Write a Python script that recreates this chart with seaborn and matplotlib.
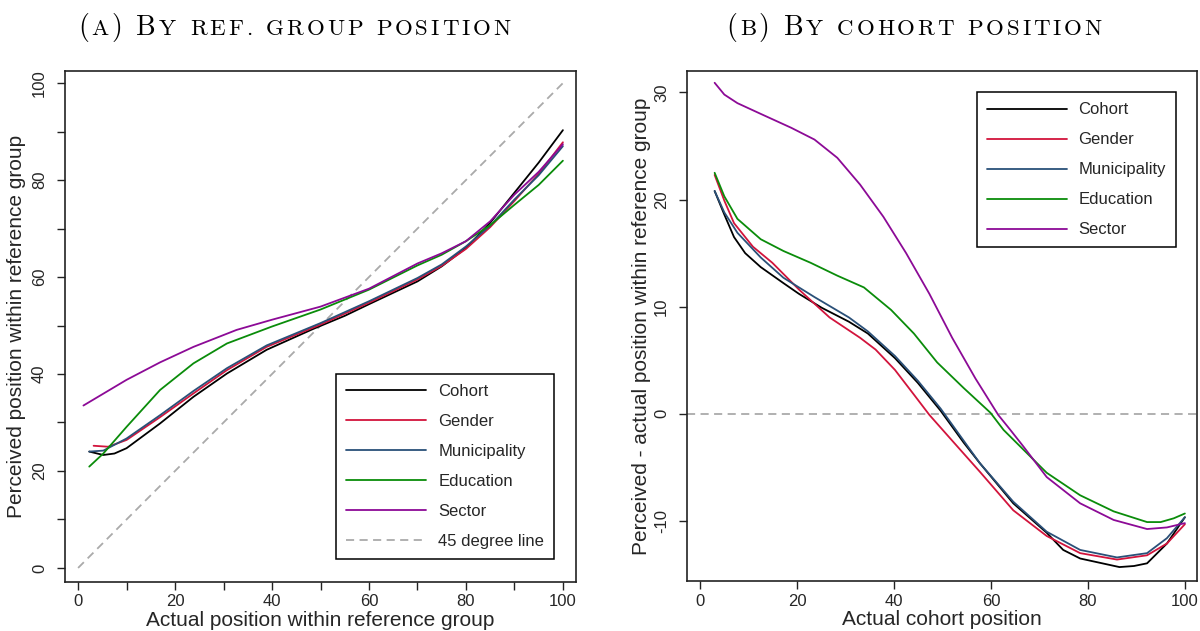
import pandas as pd
import matplotlib
matplotlib.use("Agg")
import matplotlib.pyplot as plt
import seaborn as sns
from matplotlib.lines import Line2D
from matplotlib.offsetbox import TextArea, HPacker, AnnotationBbox

groups = ["Cohort", "Gender", "Municipality", "Education", "Sector"]
colors = ["#000000", "#D2143C", "#2A5078", "#0A8C0A", "#8C0A96"]

# panel (a): perceived vs actual position within reference group
a_cohort_x = [2.3, 5.2, 7.5, 10, 16.9, 23.8, 30.7, 38.9, 48.5, 55, 60, 70, 75, 80, 85, 90, 95, 100]
a_cohort_y = [24.0, 23.3, 23.6, 24.7, 29.8, 35.3, 40.1, 45.0, 49.3, 52.0, 54.4, 59.1, 62.2, 66.0, 71.2, 77.4, 83.6, 90.3]
a_gender_x = [3.2, 6.2, 10, 16.9, 23.8, 30.7, 38.9, 50, 60, 70, 75, 80, 85, 90, 95, 100]
a_gender_y = [25.2, 25.0, 26.4, 31.1, 36.0, 40.8, 45.6, 50.2, 54.7, 59.5, 62.3, 65.8, 70.3, 75.7, 81.3, 87.8]
a_munic_x = [2.3, 5.2, 10, 16.9, 23.8, 30.7, 38.9, 50, 60, 70, 75, 80, 85, 90, 95, 100]
a_munic_y = [24.0, 24.2, 26.7, 31.5, 36.5, 41.2, 45.9, 50.5, 55.0, 59.8, 62.6, 66.3, 70.6, 76.0, 81.0, 87.0]
a_educ_x = [2.3, 5.2, 10, 16.9, 23.8, 30.7, 40, 50, 60, 70, 75, 80, 85, 90, 95, 100]
a_educ_y = [20.9, 23.6, 29.1, 36.7, 42.2, 46.3, 49.8, 53.3, 57.4, 62.4, 64.6, 67.4, 70.7, 74.9, 79.0, 84.0]
a_sector_x = [1.1, 10, 16.9, 23.8, 32.7, 40, 50, 60, 70, 75, 80, 85, 90, 95, 100]
a_sector_y = [33.5, 38.8, 42.4, 45.6, 49.1, 51.2, 53.9, 57.6, 62.8, 64.9, 67.4, 71.5, 77.0, 81.7, 87.4]
diag_x = [0, 100]
diag_y = [0, 100]

# panel (b): perceived minus actual, by cohort position
b_cohort_x = [3.0, 5.0, 7.0, 9.3, 12.5, 17.2, 20.4, 25.1, 30.7, 34.6, 40.2, 44.9, 49.6, 54.4, 57.7, 64.6,
              71.5, 74.9, 78.4, 86.5, 89.5, 92.2, 96.3, 100]
b_cohort_y = [20.8, 18.6, 16.5, 15.0, 13.7, 12.2, 11.2, 9.9, 8.6, 7.5, 5.2, 2.9, 0.3, -2.7, -4.6, -8.35,
              -11.1, -12.7, -13.5, -14.3, -14.2, -13.95, -12.1, -9.65]
b_gender_x = [3.0, 5.0, 7.0, 10.9, 14.9, 20.4, 26.7, 33.0, 36.2, 40.2, 44.1, 47.3, 52.0, 57.7, 64.6,
              71.5, 78.4, 86.0, 92.2, 96.3, 100]
b_gender_y = [22.3, 19.9, 17.8, 15.6, 14.1, 11.6, 9.0, 7.1, 6.0, 4.1, 1.8, -0.1, -2.5, -5.4, -9.0,
              -11.4, -13.0, -13.6, -13.2, -12.1, -10.3]
b_munic_x = [3.0, 5.0, 7.7, 12.5, 17.2, 23.6, 30.7, 34.6, 40.2, 44.9, 49.6, 57.7, 64.6, 71.5, 78.4,
             86.0, 92.2, 96.3, 100]
b_munic_y = [20.8, 18.8, 16.9, 14.6, 12.7, 10.9, 9.0, 7.7, 5.4, 3.1, 0.5, -4.6, -8.2, -11.0, -12.7,
             -13.4, -13.0, -11.6, -9.65]
b_educ_x = [3.0, 5.0, 7.7, 12.5, 17.2, 22.8, 28.3, 33.8, 39.4, 44.1, 48.9, 54.4, 59.9, 62.6, 71.5,
            78.4, 85.3, 92.2, 95.0, 97.7, 100]
b_educ_y = [22.5, 20.3, 18.2, 16.3, 15.2, 14.1, 12.9, 11.8, 9.7, 7.5, 4.8, 2.4, 0.1, -1.5, -5.5,
            -7.6, -9.1, -10.1, -10.1, -9.75, -9.3]
b_sector_x = [3.0, 5.0, 7.7, 12.5, 18.8, 23.6, 28.3, 33.0, 37.8, 42.5, 47.3, 52.0, 56.8, 61.5, 64.0,
              66.7, 71.5, 78.4, 85.3, 92.2, 96.3, 100]
b_sector_y = [30.9, 29.8, 29.0, 28.0, 26.7, 25.6, 23.9, 21.4, 18.4, 15.0, 11.2, 7.1, 3.3, -0.1, -1.5,
              -3.05, -5.9, -8.35, -9.9, -10.75, -10.6, -10.2]

# subcaptions: words in upper case, drawn as small caps
title_a_words = ["(A)", "BY", "REF.", "GROUP", "POSITION"]
title_b_words = ["(B)", "BY", "COHORT", "POSITION"]


def long_df(xs, ys):
    frames = [pd.DataFrame({"x": x, "y": y, "group": g}) for g, x, y in zip(groups, xs, ys)]
    return pd.concat(frames, ignore_index=True)


def style_axes(ax):
    for s in ax.spines.values():
        s.set_visible(True)
        s.set_color("#222222")
        s.set_linewidth(1.2)
    ax.tick_params(direction="out", length=6, width=1, labelsize=12, color="#222222")
    ax.tick_params(axis="x", pad=3)
    ax.tick_params(axis="y", pad=7, labelrotation=90)
    for lab in ax.get_yticklabels():
        lab.set_verticalalignment("center")


def sc_title(fig, x, y, words):
    # fake small caps: parens and the first letter of the 2nd word are full size
    boxes = []
    for wi, word in enumerate(words):
        chars = []
        for ci, ch in enumerate(word):
            big = ch in "()" or (wi == 1 and ci == 0)
            props = dict(family="cmr10", fontsize=20 if big else 16.5, color="black")
            chars.append(TextArea(ch, textprops=props))
        boxes.append(HPacker(children=chars, align="baseline", pad=0, sep=2))
    box = HPacker(children=boxes, align="baseline", pad=0, sep=10)
    ab = AnnotationBbox(box, (x, y), xycoords="figure fraction", frameon=False,
                        box_alignment=(0.5, 0.5))
    fig.add_artist(ab)


def make_legend(ax, extra=None, **kw):
    handles = [Line2D([], [], color=c, lw=1.3) for c in colors]
    labels = list(groups)
    if extra is not None:
        handles.append(extra[0])
        labels.append(extra[1])
    leg = ax.legend(handles, labels, fontsize=12, frameon=True, fancybox=False,
                    framealpha=1, edgecolor="black", handlelength=4.8,
                    handletextpad=0.72, borderpad=0.6, labelspacing=0.9,
                    borderaxespad=0, **kw)
    leg.get_frame().set_linewidth(1.1)


sns.set_style("ticks")
plt.rcParams["font.family"] = ["Liberation Sans", "DejaVu Sans"]
plt.rcParams["axes.unicode_minus"] = False

palette = dict(zip(groups, colors))
fig = plt.figure(figsize=(12, 6.31), dpi=100)
ax_a = fig.add_axes([65 / 1200, 49 / 631, 511 / 1200, 511 / 631])
ax_b = fig.add_axes([687 / 1200, 50 / 631, 510 / 1200, 510 / 631])

# panel (a)
df_a = long_df([a_cohort_x, a_gender_x, a_munic_x, a_educ_x, a_sector_x],
               [a_cohort_y, a_gender_y, a_munic_y, a_educ_y, a_sector_y])
ax_a.plot(diag_x, diag_y, color="#AAAAAA", lw=1.3, ls=(0, (4.5, 3)))
sns.lineplot(data=df_a, x="x", y="y", hue="group", hue_order=groups, palette=palette,
             estimator=None, errorbar=None, lw=1.3, legend=False, ax=ax_a)
ax_a.set_xlim(-2.7, 102.7)
ax_a.set_ylim(-2.9, 102.5)
ticks = list(range(0, 101, 10))
ax_a.set_xticks(ticks)
ax_a.set_xticklabels([str(t) if t % 20 == 0 else "" for t in ticks])
ax_a.set_yticks(ticks)
ax_a.set_yticklabels([str(t) if t % 20 == 0 else "" for t in ticks])
ax_a.set_xlabel("Actual position within reference group", fontsize=15, labelpad=1)
ax_a.set_ylabel("Perceived position within reference group", fontsize=15, labelpad=4)
style_axes(ax_a)
diag_handle = Line2D([], [], color="#AAAAAA", lw=1.3, ls=(0, (4.5, 3)))
make_legend(ax_a, extra=(diag_handle, "45 degree line"), loc="lower right",
            bbox_to_anchor=(0.957, 0.045))

# panel (b)
df_b = long_df([b_cohort_x, b_gender_x, b_munic_x, b_educ_x, b_sector_x],
               [b_cohort_y, b_gender_y, b_munic_y, b_educ_y, b_sector_y])
ax_b.axhline(0, color="#AAAAAA", lw=1.3, ls=(0, (4.5, 3)))
sns.lineplot(data=df_b, x="x", y="y", hue="group", hue_order=groups, palette=palette,
             estimator=None, errorbar=None, lw=1.3, legend=False, ax=ax_b)
ax_b.set_xlim(-2.7, 102.5)
ax_b.set_ylim(-15.6, 32.0)
ax_b.set_xticks([0, 20, 40, 60, 80, 100])
ax_b.set_yticks([-10, 0, 10, 20, 30])
ax_b.set_xlabel("Actual cohort position", fontsize=15, labelpad=1)
ax_b.set_ylabel("Perceived - actual position within reference group", fontsize=15, labelpad=2)
style_axes(ax_b)
make_legend(ax_b, loc="upper right", bbox_to_anchor=(0.959, 0.958))

sc_title(fig, 0.245, 0.957, title_a_words)
sc_title(fig, 0.7615, 0.957, title_b_words)

fig.savefig("out.png", dpi=100)
